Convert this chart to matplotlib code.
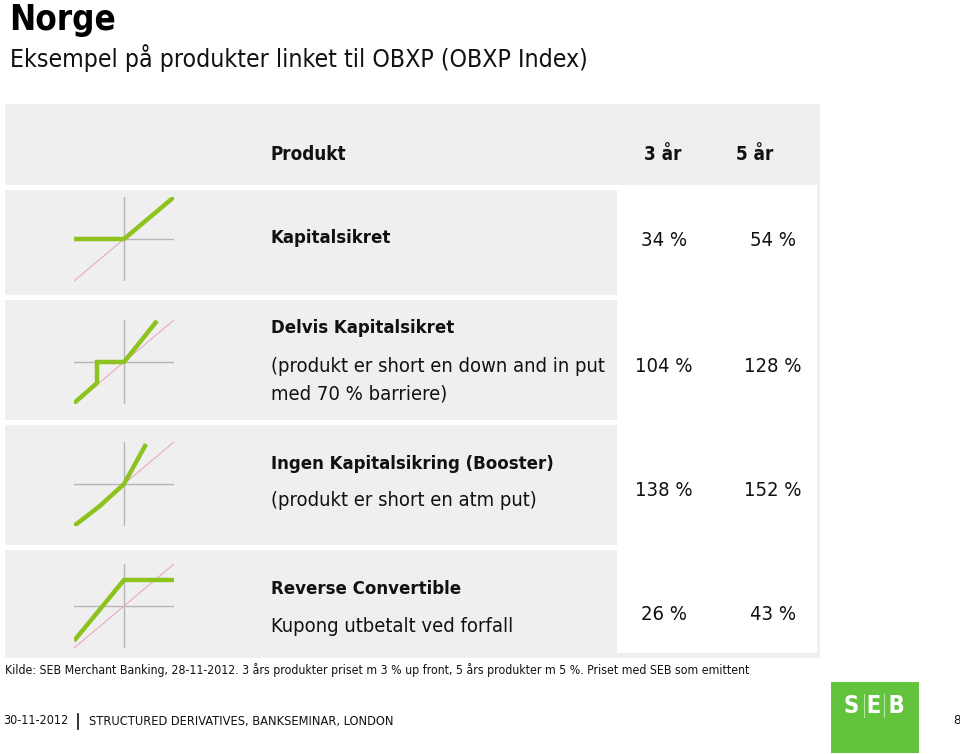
import matplotlib
matplotlib.use("Agg")
import matplotlib.pyplot as plt
from matplotlib.patches import Rectangle

plt.rcParams['font.family'] = ['DejaVu Sans']
plt.rcParams['font.stretch'] = 'condensed'

# ---------------- data ----------------
title = "Norge"
subtitle = "Eksempel på produkter linket til OBXP (OBXP Index)"
col_headers = ["Produkt", "3 år", "5 år"]
product_names = ["Kapitalsikret", "Delvis Kapitalsikret",
                 "Ingen Kapitalsikring (Booster)", "Reverse Convertible"]
product_desc = [[],
                ["(produkt er short en down and in put", "med 70 % barriere)"],
                ["(produkt er short en atm put)"],
                ["Kupong utbetalt ved forfall"]]
values_3y = ["34 %", "104 %", "138 %", "26 %"]
values_5y = ["54 %", "128 %", "152 %", "43 %"]

# payoff profiles (underlying move -> product payoff), normalised units
payoff_x = [[-1.0, 0.0, 1.0],
            [-1.0, -0.54, -0.54, 0.0, 0.66],
            [-1.0, -0.48, 0.0, 0.44],
            [-1.0, 0.0, 1.0]]
payoff_y = [[0.0, 0.0, 1.0],
            [-0.98, -0.5, 0.0, 0.0, 0.98],
            [-1.0, -0.52, 0.0, 0.95],
            [-0.83, 0.62, 0.62]]
underlying = [-1.0, 1.0]

footnote = ("Kilde: SEB Merchant Banking, 28-11-2012. 3 års produkter priset m 3 % up front, "
            "5 års produkter m 5 %. Priset med SEB som emittent")
footer_date = "30-11-2012"
footer_text = "STRUCTURED DERIVATIVES, BANKSEMINAR, LONDON"
page_no = "8"

# ---------------- layout ----------------
W, H = 960, 754
fig = plt.figure(figsize=(W / 100, H / 100), dpi=100)
bg = fig.add_axes([0, 0, 1, 1])
bg.set_xlim(0, W)
bg.set_ylim(H, 0)
bg.axis('off')

GRAY = '#efefef'
GREEN = '#8dc21f'
PINK = '#e9a9c0'
AXC = '#b5b5b5'
TXT = '#111111'

# table panel
bg.add_patch(Rectangle((5, 104), 815, 554, color=GRAY, lw=0))
for y0, y1 in [(185, 190), (295, 300), (420, 425), (545, 550)]:
    bg.add_patch(Rectangle((5, y0), 612, y1 - y0, color='white', lw=0))
bg.add_patch(Rectangle((617, 185), 200, 468, color='white', lw=0))

# title
bg.text(9, 20, title, fontsize=25, fontweight='bold', va='center', ha='left', color='black')
bg.text(10, 58, subtitle, fontsize=17.8, va='center', ha='left', color=TXT)

# header
bg.text(271, 154, col_headers[0], fontsize=13.5, fontweight='bold', va='center', ha='left', color=TXT)
bg.text(663, 154, col_headers[1], fontsize=13.5, fontweight='bold', va='center', ha='center', color=TXT)
bg.text(755, 154, col_headers[2], fontsize=13.5, fontweight='bold', va='center', ha='center', color=TXT)

name_y = [238, 328, 464, 589]
desc_y = [[], [366, 394], [500], [626]]
val_y = [240, 366, 491, 615]
for i in range(4):
    bg.text(271, name_y[i], product_names[i], fontsize=13.3, fontweight='bold',
            va='center', ha='left', color=TXT)
    for t, yy in zip(product_desc[i], desc_y[i]):
        bg.text(271, yy, t, fontsize=14.5, va='center', ha='left', color=TXT)
    bg.text(664, val_y[i], values_3y[i], fontsize=14.5, va='center', ha='center', color=TXT)
    bg.text(773, val_y[i], values_5y[i], fontsize=14.5, va='center', ha='center', color=TXT)

# payoff diagrams
diag_top = [197, 320, 442, 564]
for i in range(4):
    top = diag_top[i]
    ax = fig.add_axes([74 / W, 1 - (top + 84) / H, 100 / W, 84 / H])
    ax.set_xlim(-1, 1)
    ax.set_ylim(-1, 1)
    ax.axis('off')
    ax.axvline(0, color=AXC, lw=1.0, zorder=1)
    ax.axhline(0, color=AXC, lw=1.0, zorder=1)
    ax.plot(underlying, underlying, color=PINK, lw=0.8, zorder=2)
    ax.plot(payoff_x[i], payoff_y[i], color=GREEN, lw=3.2, zorder=3,
            solid_joinstyle='miter', solid_capstyle='butt')

# footnote
bg.text(5, 670, footnote, fontsize=8.8, va='center', ha='left', color=TXT)

# footer
bg.text(3, 721, footer_date, fontsize=9, va='center', ha='left', color=TXT)
bg.plot([78, 78], [714, 729], color=TXT, lw=1.2)
bg.text(89, 721, footer_text, fontsize=9.2, va='center', ha='left', color=TXT)
bg.text(953, 721, page_no, fontsize=9.5, va='center', ha='left', color=TXT)

# SEB logo
bg.add_patch(Rectangle((831, 682), 88, 71, color='#62c43c', lw=0))
bg.text(874, 706, "S E B", fontsize=17, fontweight='bold', color='white',
        va='center', ha='center')
for xx in [864, 884]:
    bg.plot([xx, xx], [694, 717], color='#b8e6a0', lw=0.8)

fig.savefig("out.png", dpi=100)
